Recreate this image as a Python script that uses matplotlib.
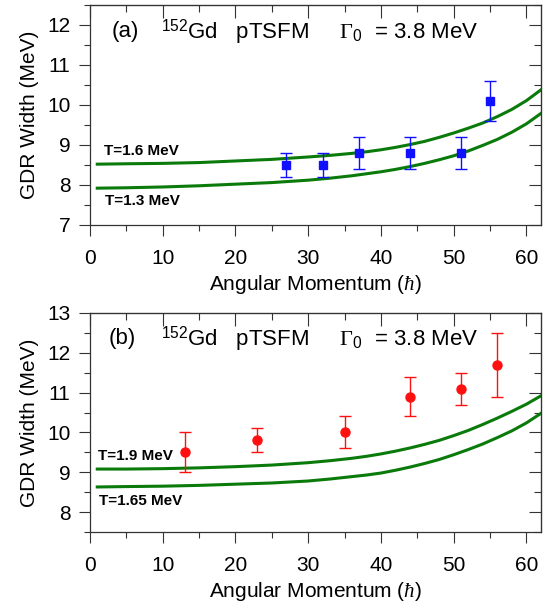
import numpy as np
import matplotlib
matplotlib.use('Agg')
import matplotlib.pyplot as plt
from matplotlib.ticker import MultipleLocator

plt.rcParams['font.family'] = ['Liberation Sans', 'DejaVu Sans']
plt.rcParams['mathtext.fontset'] = 'custom'
plt.rcParams['mathtext.rm'] = 'Liberation Sans'
plt.rcParams['mathtext.sf'] = 'Liberation Serif'
plt.rcParams['mathtext.it'] = 'Liberation Serif:italic'

# du lieu panel (a)
spin_a = [27, 32, 37, 44, 51, 55]
width_a = [8.5, 8.5, 8.8, 8.8, 8.8, 10.1]
err_a = [0.3, 0.3, 0.4, 0.4, 0.4, 0.5]

# du lieu panel (b)
spin_b = [13, 23, 35, 44, 51, 56]
width_b = [9.5, 9.8, 10.0, 10.9, 11.1, 11.7]
err_b = [0.5, 0.3, 0.4, 0.5, 0.4, 0.8]

# duong tinh toan pTSFM (doc tu hinh)
j_curve = [1, 5, 10, 15, 20, 25, 30, 33, 36, 38, 40, 42, 44, 46, 48, 50, 52, 54, 56, 58, 60, 62]
t16 = [8.52, 8.53, 8.54, 8.56, 8.60, 8.64, 8.70, 8.74, 8.79, 8.83, 8.88, 8.94, 9.01, 9.09,
       9.19, 9.30, 9.42, 9.55, 9.71, 9.89, 10.11, 10.38]
t13 = [7.92, 7.93, 7.95, 7.98, 8.02, 8.06, 8.12, 8.17, 8.23, 8.28, 8.33, 8.39, 8.46, 8.54,
       8.63, 8.73, 8.85, 8.99, 9.14, 9.32, 9.53, 9.79]
t19 = [9.08, 9.08, 9.09, 9.11, 9.14, 9.18, 9.24, 9.29, 9.35, 9.40, 9.46, 9.53, 9.61, 9.70,
       9.80, 9.92, 10.05, 10.20, 10.36, 10.53, 10.71, 10.92]
t165 = [8.63, 8.64, 8.65, 8.67, 8.70, 8.73, 8.78, 8.83, 8.89, 8.93, 8.98, 9.05, 9.13, 9.22,
        9.32, 9.44, 9.57, 9.71, 9.87, 10.04, 10.24, 10.48]

green = '#0a7a0a'
fs = 15
title = r'$^{152}$Gd   pTSFM     $\mathsf{\Gamma}_0$  = 3.8 MeV'

fig = plt.figure(figsize=(5.51, 6.14), dpi=100)
ax1 = fig.add_axes([0.1633, 0.6336, 0.8186, 0.3583])
ax2 = fig.add_axes([0.1633, 0.1336, 0.8186, 0.3567])


def style(ax, ylo, yhi):
    ax.set_xlim(0, 62)
    ax.set_ylim(ylo, yhi)
    ax.xaxis.set_major_locator(MultipleLocator(10))
    ax.xaxis.set_minor_locator(MultipleLocator(5))
    ax.yaxis.set_major_locator(MultipleLocator(1))
    ax.yaxis.set_minor_locator(MultipleLocator(0.5))
    ax.tick_params(which='both', direction='out', labelsize=fs, width=0.8, color='#333333')
    ax.tick_params(which='major', length=8, pad=6)
    ax.tick_params(which='minor', length=4)
    ax.tick_params(axis='x', which='major', pad=9)
    for s in ax.spines.values():
        s.set_linewidth(0.9)
        s.set_color('#333333')
    top = ax.secondary_xaxis('top')
    top.xaxis.set_major_locator(MultipleLocator(10))
    top.xaxis.set_minor_locator(MultipleLocator(5))
    top.tick_params(which='both', direction='in', labeltop=False, width=0.8, color='#333333')
    top.tick_params(which='major', length=9)
    top.tick_params(which='minor', length=5)
    right = ax.secondary_yaxis('right')
    right.yaxis.set_major_locator(MultipleLocator(1))
    right.yaxis.set_minor_locator(MultipleLocator(0.5))
    right.tick_params(which='both', direction='in', labelright=False, width=0.8, color='#333333')
    right.tick_params(which='major', length=9)
    right.tick_params(which='minor', length=5)
    ax.set_xlabel(r'Angular Momentum ($\mathit{\hbar}$)', fontsize=fs, labelpad=4)
    ax.set_ylabel('GDR Width (MeV)', fontsize=fs, labelpad=6)


# panel (a)
style(ax1, 7, 12.5)
ax1.plot(j_curve, t16, color=green, lw=2.2)
ax1.plot(j_curve, t13, color=green, lw=2.2)
ax1.errorbar(spin_a, width_a, yerr=err_a, fmt='s', color='#1010ff', ms=6,
             capsize=4.5, elinewidth=1, capthick=1)
ax1.text(3.0, 11.83, '(a)', fontsize=16, va='center')
ax1.text(9.8, 11.83, title, fontsize=16, va='center')
ax1.text(1.9, 8.85, 'T=1.6 MeV', fontsize=11, fontweight='bold', va='center')
ax1.text(2.0, 7.61, 'T=1.3 MeV', fontsize=11, fontweight='bold', va='center')

# panel (b)
style(ax2, 7.5, 13)
ax2.plot(j_curve, t19, color=green, lw=2.2)
ax2.plot(j_curve, t165, color=green, lw=2.2)
ax2.errorbar(spin_b, width_b, yerr=err_b, fmt='o', color='#ff1010', ms=6.5,
             capsize=4.5, elinewidth=1, capthick=1)
ax2.text(2.6, 12.35, '(b)', fontsize=16, va='center')
ax2.text(9.8, 12.35, title, fontsize=16, va='center')
ax2.text(1.1, 9.42, 'T=1.9 MeV', fontsize=11, fontweight='bold', va='center')
ax2.text(1.25, 8.27, 'T=1.65 MeV', fontsize=11, fontweight='bold', va='center')

fig.savefig('out.png', dpi=100)
